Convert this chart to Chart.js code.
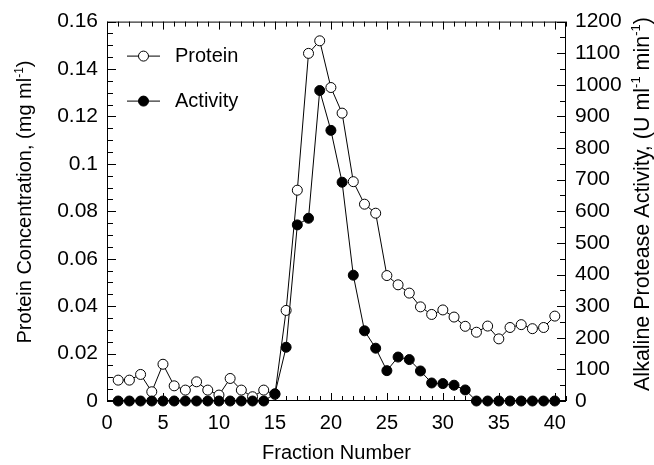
<!DOCTYPE html>
<html>
<head>
<meta charset="utf-8">
<script src="https://cdn.jsdelivr.net/npm/chart.js@4"></script>
<style>
  html, body { margin: 0; padding: 0; background: #fff; }
  #wrap { width: 654px; height: 465px; }
</style>
</head>
<body>
<div id="wrap"><canvas id="chart" width="654" height="465"></canvas></div>
<script>
/* Protein / alkaline protease elution profile, two y axes. */

const FONT = "'Liberation Sans', Arial, Helvetica, sans-serif";

const fractions = [1, 2, 3, 4, 5, 6, 7, 8, 9, 10, 11, 12, 13, 14, 15, 16, 17, 18, 19, 20,
  21, 22, 23, 24, 25, 26, 27, 28, 29, 30, 31, 32, 33, 34, 35, 36, 37, 38, 39, 40];
const protein = [0.0088, 0.0088, 0.0112, 0.0039, 0.0155, 0.0064, 0.0046, 0.0081, 0.0046, 0.0025,
  0.0095, 0.0046, 0.0018, 0.0046, 0.0028, 0.0382, 0.0889, 0.1466, 0.1519, 0.1322,
  0.1214, 0.0925, 0.0830, 0.0792, 0.0529, 0.0490, 0.0455, 0.0397, 0.0365, 0.0384,
  0.0354, 0.0315, 0.0290, 0.0316, 0.0262, 0.0310, 0.0322, 0.0305, 0.0310, 0.0358];
const activity = [0, 0, 0, 0, 0, 0, 0, 0, 0, 0,
  0, 0, 0, 0, 23, 170, 557, 578, 982, 856,
  692, 398, 222, 167, 96, 139, 131, 95, 57, 55,
  50, 35, 0, 0, 0, 0, 0, 0, 0, 0];

const xTicks = [0, 5, 10, 15, 20, 25, 30, 35, 40];
const proteinTicks = [0, 0.02, 0.04, 0.06, 0.08, 0.1, 0.12, 0.14, 0.16];
const activityTicks = [0, 100, 200, 300, 400, 500, 600, 700, 800, 900, 1000, 1100, 1200];

const leftTitle = [{ t: 'Protein Concentration, (mg ml' }, { t: '-1', sup: true }, { t: ')' }];
const rightTitle = [{ t: 'Alkaline Protease Activity, (U ml' }, { t: '-1', sup: true },
  { t: ' min' }, { t: '-1', sup: true }, { t: ')' }];

const toPoints = (ys) => fractions.map((f, i) => ({ x: f, y: ys[i] }));
const setTicks = (vals) => (s) => { s.ticks = vals.map((v) => ({ value: v })); };

function drawRotated(ctx, parts, cx, cy, size) {
  const big = `${size}px ${FONT}`, small = `${Math.round(size * 0.62)}px ${FONT}`;
  ctx.save();
  ctx.translate(cx, cy);
  ctx.rotate(-Math.PI / 2);
  let w = 0;
  parts.forEach((p) => { ctx.font = p.sup ? small : big; w += ctx.measureText(p.t).width; });
  let x = -w / 2;
  ctx.fillStyle = '#000';
  ctx.textBaseline = 'alphabetic';
  parts.forEach((p) => {
    ctx.font = p.sup ? small : big;
    ctx.fillText(p.t, x, p.sup ? size * 0.36 - size * 0.4 : size * 0.36);
    x += ctx.measureText(p.t).width;
  });
  ctx.restore();
}

// frame plus inward ticks on all four sides
const frameTicks = {
  id: 'frameTicks',
  beforeDatasetsDraw(chart) {
    const { ctx, chartArea: a, scales } = chart;
    ctx.save();
    ctx.strokeStyle = '#000';
    ctx.lineWidth = 1;
    ctx.strokeRect(a.left + 0.5, a.top + 0.5, a.right - a.left - 1, a.bottom - a.top - 1);
    ctx.beginPath();
    for (let v = 0; v <= 41; v++) {
      const x = Math.round(scales.x.getPixelForValue(v)) + 0.5;
      const len = v % 5 === 0 ? 8 : 5;
      ctx.moveTo(x, a.bottom); ctx.lineTo(x, a.bottom - len);
      ctx.moveTo(x, a.top); ctx.lineTo(x, a.top + len);
    }
    for (let i = 0; i <= 32; i++) {
      const y = Math.round(scales.y.getPixelForValue(i * 0.005)) + 0.5;
      ctx.moveTo(a.left, y); ctx.lineTo(a.left + (i % 4 === 0 ? 9 : 6), y);
    }
    for (let i = 0; i <= 24; i++) {
      const y = Math.round(scales.y1.getPixelForValue(i * 50)) + 0.5;
      ctx.moveTo(a.right, y); ctx.lineTo(a.right - (i % 2 === 0 ? 9 : 6), y);
    }
    ctx.stroke();
    ctx.restore();
  },
  afterDatasetsDraw(chart) {
    const { ctx, chartArea: a } = chart;
    ctx.save();
    chart.data.datasets.forEach((ds, i) => {
      const y = a.top + 34 + i * 45;
      ctx.strokeStyle = '#000';
      ctx.lineWidth = 1;
      ctx.beginPath();
      ctx.moveTo(a.left + 20, y + 0.5); ctx.lineTo(a.left + 53, y + 0.5);
      ctx.stroke();
      ctx.beginPath();
      ctx.arc(a.left + 36.5, y + 0.5, 5, 0, Math.PI * 2);
      ctx.fillStyle = ds.pointBackgroundColor;
      ctx.fill();
      ctx.stroke();
      ctx.fillStyle = '#000';
      ctx.font = `20px ${FONT}`;
      ctx.textBaseline = 'middle';
      ctx.fillText(ds.label, a.left + 68, y + 1);
    });
    ctx.restore();
    drawRotated(ctx, leftTitle, 24, 202, 20);
    drawRotated(ctx, rightTitle, 641, 204, 21.5);
  },
};

Chart.defaults.font.family = FONT;
Chart.defaults.color = '#000';

new Chart(document.getElementById('chart'), {
  type: 'line',
  data: {
    datasets: [
      {
        label: 'Protein', data: toPoints(protein), yAxisID: 'y', order: 1,
        borderColor: '#000', borderWidth: 1, tension: 0, clip: false,
        pointRadius: 5, pointBorderWidth: 1, pointBorderColor: '#000', pointBackgroundColor: '#fff',
      },
      {
        label: 'Activity', data: toPoints(activity), yAxisID: 'y1', order: 0,
        borderColor: '#000', borderWidth: 1, tension: 0, clip: false,
        pointRadius: 5, pointBorderWidth: 1, pointBorderColor: '#000', pointBackgroundColor: '#000',
      },
    ],
  },
  options: {
    responsive: false,
    devicePixelRatio: 1,
    animation: false,
    layout: { padding: { top: 20, left: 0, right: 0, bottom: 0 } },
    plugins: { legend: { display: false }, tooltip: { enabled: false } },
    scales: {
      x: {
        type: 'linear', min: 0, max: 41,
        afterBuildTicks: setTicks(xTicks),
        afterFit: (s) => { s.height = 64; },
        grid: { display: false, drawTicks: false },
        border: { display: false },
        ticks: { padding: 10, font: { size: 20 }, maxRotation: 0, autoSkip: false, color: '#000' },
        title: { display: true, text: 'Fraction Number', font: { size: 20 }, color: '#000', padding: { top: 0, bottom: 0 } },
      },
      y: {
        position: 'left', min: 0, max: 0.16,
        afterBuildTicks: setTicks(proteinTicks),
        afterFit: (s) => { s.width = 107; },
        grid: { display: false, drawTicks: false },
        border: { display: false },
        ticks: { padding: 9, font: { size: 21 }, color: '#000', callback: (v) => String(parseFloat(v.toFixed(2))) },
      },
      y1: {
        position: 'right', min: 0, max: 1200,
        afterBuildTicks: setTicks(activityTicks),
        afterFit: (s) => { s.width = 88; },
        grid: { display: false, drawTicks: false },
        border: { display: false },
        ticks: { padding: 9, font: { size: 21 }, color: '#000', callback: (v) => String(v) },
      },
    },
  },
  plugins: [frameTicks],
});
</script>
</body>
</html>
